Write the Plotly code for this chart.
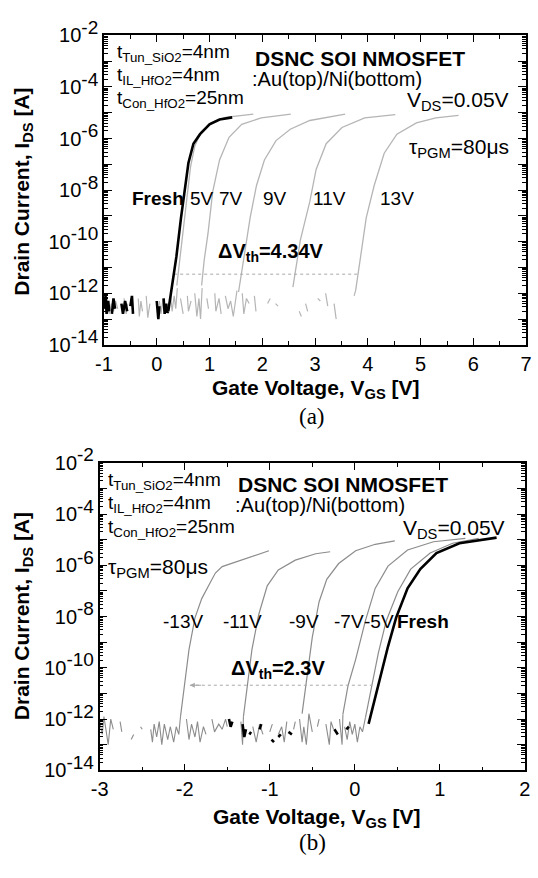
import plotly.graph_objects as go

# ---------------- DATA (panel a) ----------------
# gate voltage [V] and log10 of drain current [A]
a_fresh_v = [0.218, 0.297, 0.372, 0.46, 0.52, 0.60, 0.695, 0.82, 1.0, 1.19, 1.43]
a_fresh_e = [-12.7, -11.7, -10.58, -9.07, -8.07, -6.95, -6.2, -5.83, -5.45, -5.26, -5.18]
a_5v_v = [0.38, 0.44, 0.52, 0.58, 0.64, 0.72, 0.84, 1.02, 1.3, 1.83]
a_5v_e = [-11.7, -10.6, -9.2, -8.2, -7.1, -6.3, -5.75, -5.4, -5.18, -5.05]
a_7v_v = [0.85, 0.9, 0.97, 1.06, 1.19, 1.37, 1.61, 1.98, 2.54]
a_7v_e = [-11.7, -10.7, -9.7, -8.07, -6.83, -5.95, -5.45, -5.2, -5.05]
a_9v_v = [1.55, 1.64, 1.77, 1.89, 2.04, 2.26, 2.53, 2.9, 3.57]
a_9v_e = [-11.95, -10.7, -9.07, -7.82, -6.83, -6.08, -5.64, -5.3, -5.05]
a_11v_v = [2.58, 2.72, 2.90, 3.02, 3.21, 3.51, 3.94, 4.52]
a_11v_e = [-11.76, -9.95, -8.45, -7.2, -6.2, -5.57, -5.2, -5.07]
a_13v_v = [3.77, 3.85, 3.97, 4.12, 4.31, 4.55, 4.92, 5.29, 5.72]
a_13v_e = [-11.88, -10.7, -9.07, -7.82, -6.57, -5.83, -5.39, -5.2, -5.1]

a_noise_gray_v = [-1.0, -0.97, -0.94, -0.9, -0.86, -0.82, -0.78, -0.74, None,
                  -0.62, -0.58, -0.55, None, -0.35, -0.33, -0.30, -0.27, None,
                  -0.2, -0.17, -0.13, None, 0.05, 0.08, 0.12, None,
                  0.26, 0.29, 0.33, 0.36, 0.39, None, 0.45, 0.5, None,
                  0.58, 0.6, 0.65, None, 0.72, 0.76, 0.8, 0.83, 0.86, None,
                  0.95, 0.98, None, 1.1, 1.12, 1.18, 1.22, None,
                  1.3, 1.35, 1.4, 1.45, 1.52, None, 1.62, 1.65, 1.7, 1.75, None,
                  1.85, 1.88, None, 2.1, 2.15, None, 2.25, 2.3, None,
                  2.7, 2.74, None, 2.82, 2.86, None, 3.05, 3.1, None,
                  3.2, 3.24, None, 3.36, 3.4, None, 3.74, 3.77]
a_noise_gray_e = [-12.3, -12.6, -12.2, -12.8, -12.4, -12.7, -12.3, -12.6, None,
                  -12.2, -12.8, -12.4, None, -12.2, -12.9, -12.3, -12.7, None,
                  -12.1, -12.95, -12.4, None, -12.3, -12.8, -12.2, None,
                  -12.0, -12.7, -12.1, -12.6, -11.8, None, -12.2, -12.8, None,
                  -12.1, -12.7, -12.3, None, -12.0, -12.9, -12.2, -13.0, -11.8, None,
                  -12.2, -12.6, None, -12.0, -12.7, -12.2, -12.8, None,
                  -12.1, -12.6, -12.3, -12.9, -11.9, None, -12.0, -12.8, -12.2, -12.4, None,
                  -12.1, -12.7, None, -12.4, -12.2, None, -12.4, -12.5, None,
                  -12.7, -12.9, None, -12.4, -12.7, None, -12.2, -12.3, None,
                  -12.0, -12.5, None, -12.4, -13.0, None, -12.1, -11.88]
a_noise_black_v = [-1.0, -0.97, -0.95, -0.92, -0.9, None, -0.85, -0.82, -0.79, None,
                   -0.67, -0.64, -0.6, -0.56, None, -0.5, -0.47, -0.45, None,
                   0.0, 0.03, 0.05, None, 0.13, 0.15, 0.18, 0.2, 0.218]
a_noise_black_e = [-12.6, -12.1, -12.8, -12.3, -12.7, None, -12.8, -12.2, -12.6, None,
                   -12.4, -12.8, -12.3, -12.7, None, -12.5, -12.1, -12.8, None,
                   -12.3, -13.0, -12.5, None, -12.2, -12.8, -12.4, -12.75, -12.7]
a_dvth_v = [0.33, 3.85]
a_dvth_e = [-11.26, -11.26]
a_x_ticks = [-1, 0, 1, 2, 3, 4, 5, 6, 7]

# ---------------- DATA (panel b) ----------------
b_13v_v = [-2.05, -2.01, -1.95, -1.88, -1.80, -1.72, -1.64, -1.56, -1.40, -1.21, -1.01]
b_13v_e = [-11.91, -10.79, -9.29, -8.05, -7.3, -6.8, -6.3, -6.05, -5.87, -5.68, -5.43]
b_11v_v = [-1.31, -1.27, -1.21, -1.13, -1.03, -0.9, -0.70, -0.46, -0.29]
b_11v_e = [-11.91, -10.79, -9.29, -7.92, -6.8, -6.18, -5.8, -5.55, -5.47]
b_9v_v = [-0.62, -0.56, -0.5, -0.42, -0.33, -0.19, 0.01, 0.24, 0.47]
b_9v_e = [-11.79, -10.3, -8.8, -7.42, -6.55, -5.93, -5.43, -5.18, -5.05]
b_7v_v = [-0.14, -0.08, 0.01, 0.125, 0.239, 0.39, 0.62, 0.925, 1.3]
b_7v_e = [-11.81, -10.7, -9.67, -8.16, -6.9, -6.03, -5.4, -5.08, -4.95]
b_5v_v = [0.125, 0.2, 0.277, 0.37, 0.505, 0.657, 0.886, 1.15, 1.457]
b_5v_e = [-11.94, -10.68, -9.42, -8.16, -7.03, -6.15, -5.52, -5.14, -4.95]
b_fresh_v = [0.162, 0.277, 0.39, 0.486, 0.62, 0.77, 0.96, 1.23, 1.457, 1.667]
b_fresh_e = [-12.19, -10.68, -9.17, -8.04, -6.9, -6.15, -5.52, -5.14, -5.02, -4.92]

b_noise_gray_v = [-3.0, -2.97, -2.95, -2.92, -2.9, -2.87, -2.84, None,
                  -2.76, -2.74, None, -2.63, -2.6, None, -2.52, -2.5, None,
                  -2.4, -2.38, -2.36, -2.33, -2.3, -2.27, -2.24, -2.2, -2.17, -2.13, -2.1, -2.07, -2.05, None,
                  -1.98, -1.95, -1.92, -1.88, -1.85, -1.82, -1.78, -1.75, None,
                  -1.68, -1.65, -1.6, -1.56, -1.52, -1.5, None,
                  -1.34, -1.32, -1.31, None, -1.2, -1.16, -1.12, -1.08, None,
                  -1.0, -0.97, None, -0.9, -0.86, -0.83, -0.8, None,
                  -0.72, -0.7, None, -0.65, -0.62, -0.6, -0.57, -0.54, -0.5, None,
                  -0.44, -0.42, None, -0.34, -0.3, -0.28, -0.25, None,
                  -0.18, -0.15, -0.14, None, -0.12, -0.09, -0.06, -0.03, 0.0, 0.03, 0.06, 0.09, 0.125]
b_noise_gray_e = [-12.1, -12.6, -11.9, -12.5, -13.0, -12.0, -12.4, None,
                  -12.1, -12.5, None, -12.8, -12.6, None, -12.3, -12.4, None,
                  -12.4, -12.9, -12.2, -12.7, -12.1, -13.0, -12.2, -12.8, -12.3, -12.9, -12.3, -12.6, -11.91, None,
                  -12.0, -12.8, -12.2, -12.7, -12.1, -12.9, -12.3, -12.6, None,
                  -12.0, -12.5, -12.2, -12.4, -12.0, -12.3, None,
                  -12.1, -13.0, -11.91, None, -12.3, -12.9, -12.2, -12.6, None,
                  -12.5, -12.2, None, -12.6, -12.3, -12.9, -12.1, None,
                  -12.4, -12.1, None, -12.0, -12.9, -12.3, -13.0, -11.79, -12.5, None,
                  -12.3, -12.0, None, -12.2, -13.0, -12.1, -12.4, None,
                  -12.0, -13.0, -11.81, None, -12.3, -12.8, -12.1, -12.6, -12.2, -12.9, -12.3, -12.5, -11.94]
b_noise_black_v = [-1.48, -1.46, -1.44, None, -1.32, -1.3, -1.28, None, -1.24, -1.22, None,
                   -1.12, -1.1, None, -0.98, -0.95, None, -0.9, -0.87, None, -0.78, -0.74, None,
                   -0.24, -0.2, None, -0.1, -0.07]
b_noise_black_e = [-12.0, -12.3, -12.1, None, -12.2, -12.7, -12.4, None, -12.6, -12.5, None,
                   -12.4, -12.2, None, -12.8, -12.9, None, -12.7, -12.6, None, -12.5, -12.6, None,
                   -12.4, -12.6, None, -12.4, -12.3]
b_dvth_v = [-1.94, 0.2]
b_dvth_e = [-10.68, -10.68]
b_x_ticks = [-3, -2, -1, 0, 1, 2]

y_tick_exp = [-14, -13, -12, -11, -10, -9, -8, -7, -6, -5, -4, -3, -2]


def cur(exps):
    return [None if e is None else 10 ** e for e in exps]


W, H = 538, 878
FONT = "Liberation Sans, Arial, sans-serif"
LIGHT = "#b5b5b5"
MID = "#8c8c8c"

fig = go.Figure()


def line(v, e, color, width, xa, ya, dash=None):
    fig.add_trace(go.Scatter(x=v, y=cur(e), mode="lines", xaxis=xa, yaxis=ya,
                             line=dict(color=color, width=width, dash=dash),
                             connectgaps=False, showlegend=False, hoverinfo="skip"))


# panel a
line(a_noise_gray_v, a_noise_gray_e, LIGHT, 1.2, "x", "y")
for v, e in [(a_5v_v, a_5v_e), (a_7v_v, a_7v_e), (a_9v_v, a_9v_e),
             (a_11v_v, a_11v_e), (a_13v_v, a_13v_e)]:
    line(v, e, LIGHT, 1.3, "x", "y")
line(a_dvth_v, a_dvth_e, "#a8a8a8", 1, "x", "y", dash="dot")
line(a_noise_black_v, a_noise_black_e, "black", 2.6, "x", "y")
line(a_fresh_v, a_fresh_e, "black", 2.6, "x", "y")

# panel b
line(b_noise_gray_v, b_noise_gray_e, MID, 1.1, "x2", "y2")
for v, e in [(b_13v_v, b_13v_e), (b_11v_v, b_11v_e), (b_9v_v, b_9v_e),
             (b_7v_v, b_7v_e), (b_5v_v, b_5v_e)]:
    line(v, e, MID, 1.2, "x2", "y2")
line(b_dvth_v, b_dvth_e, "#a8a8a8", 1, "x2", "y2", dash="dot")
line(b_noise_black_v, b_noise_black_e, "black", 2.6, "x2", "y2")
line(b_fresh_v, b_fresh_e, "black", 2.6, "x2", "y2")


def px(x):
    return x / W


def py(y):
    return 1 - y / H


tickfont = dict(family=FONT, size=20, color="black")
ytext = ["10<sup><span style=\"font-size:19px\">%d</span></sup>" % e if e % 2 == 0 else ""
         for e in y_tick_exp]
yaxis_common = dict(type="log", range=[-14, -2], tickmode="array",
                    tickvals=cur(y_tick_exp), ticktext=ytext,
                    ticks="inside", ticklen=8, tickwidth=1.2, tickcolor="black",
                    showline=True, linecolor="black", linewidth=1.5, mirror="ticks",
                    showgrid=False, zeroline=False, tickfont=tickfont,
                    minor=dict(ticks="inside", ticklen=4, tickwidth=1, tickcolor="black",
                               dtick="D1", showgrid=False))
xaxis_common = dict(ticks="inside", ticklen=7, tickwidth=1.2, tickcolor="black",
                    showline=True, linecolor="black", linewidth=1.5, mirror="ticks",
                    showgrid=False, zeroline=False, tickfont=tickfont, tickmode="array",
                    minor=dict(ticks="inside", ticklen=4, tickwidth=1, tickcolor="black",
                               dtick=0.5, showgrid=False))

fig.update_layout(
    width=W, height=H, margin=dict(l=0, r=0, t=0, b=0),
    paper_bgcolor="white", plot_bgcolor="white", showlegend=False,
    xaxis=dict(domain=[px(97.7), px(532)], range=[-1, 7], anchor="y",
               tickvals=a_x_ticks, ticktext=[str(t) for t in a_x_ticks], **xaxis_common),
    yaxis=dict(domain=[py(338), py(18)], anchor="x", **yaxis_common),
    xaxis2=dict(domain=[px(93.3), px(530.7)], range=[-3, 2], anchor="y2",
                tickvals=b_x_ticks, ticktext=[str(t) for t in b_x_ticks], **xaxis_common),
    yaxis2=dict(domain=[py(778), py(460)], anchor="x2", **yaxis_common),
)

ann = []


def T(text, x, y, size=19, xanchor="left", bold=False, family=FONT, angle=0):
    if bold:
        text = "<b>" + text + "</b>"
    ann.append(dict(text=text, x=px(x), y=py(y), xref="paper", yref="paper",
                    xanchor=xanchor, yanchor="middle", showarrow=False, textangle=angle,
                    font=dict(family=family, size=size, color="black")))


# panel a text
T("t<sub>Tun_SiO2</sub>=4nm", 109, 36)
T("t<sub>IL_HfO2</sub>=4nm", 109, 60)
T("t<sub>Con_HfO2</sub>=25nm", 109, 84)
T("DSNC SOI NMOSFET", 251, 42, size=21, bold=True)
T(":Au(top)/Ni(bottom)", 248, 63, size=20)
T("V<sub>DS</sub>=0.05V", 516, 86, size=21, xanchor="right")
T("τ<sub>PGM</sub>=80μs", 516, 134, size=21, xanchor="right")
T("Fresh", 124, 187, size=19, bold=True)
T("5V", 184, 187)
T("7V", 214, 187)
T("9V", 259, 187)
T("11V", 311, 187)
T("13V", 380, 187)
T("ΔV<sub>th</sub>=4.34V", 213, 243, size=20, bold=True)
T("Drain Current, I<sub>DS</sub> [A]", 14, 180, size=21, bold=True, xanchor="center", angle=-90)
T("Gate Voltage, V<sub>GS</sub> [V]", 316, 384, size=21, bold=True, xanchor="center")
T("(a)", 312, 412, size=23, xanchor="center", family="Liberation Serif, Times New Roman, serif")

# panel b text
T("t<sub>Tun_SiO2</sub>=4nm", 100, 479)
T("t<sub>IL_HfO2</sub>=4nm", 100, 503)
T("t<sub>Con_HfO2</sub>=25nm", 100, 527)
T("τ<sub>PGM</sub>=80μs", 100, 569, size=21)
T("DSNC SOI NMOSFET", 234, 482, size=21, bold=True)
T(":Au(top)/Ni(bottom)", 230, 504, size=20)
T("V<sub>DS</sub>=0.05V", 512, 528, size=21, xanchor="right")
T("-13V", 156, 624)
T("-11V", 218, 624)
T("-9V", 286, 624)
T("-7V", 332, 624)
T("-5V", 363, 624)
T("Fresh", 397, 624, size=19, bold=True)
T("ΔV<sub>th</sub>=2.3V", 226, 674, size=20, bold=True)
T("Drain Current, I<sub>DS</sub> [A]", 14, 619, size=21, bold=True, xanchor="center", angle=-90)
T("Gate Voltage, V<sub>GS</sub> [V]", 317, 827, size=21, bold=True, xanchor="center")
T("(b)", 312, 853, size=23, xanchor="center", family="Liberation Serif, Times New Roman, serif")

fig.update_layout(annotations=ann)

# arrowhead for panel b delta-Vth line (points left)
fig.add_annotation(x=b_dvth_v[0], y=b_dvth_e[0], ax=b_dvth_v[0] + 0.15, ay=b_dvth_e[0],
                   xref="x2", yref="y2", axref="x2", ayref="y2", text="", showarrow=True,
                   arrowhead=2, arrowsize=1, arrowwidth=1, arrowcolor="#a8a8a8")

fig.write_html("out.html", config={"displayModeBar": False},
               post_script="document.body.style.margin='0';document.body.style.overflow='hidden';")
